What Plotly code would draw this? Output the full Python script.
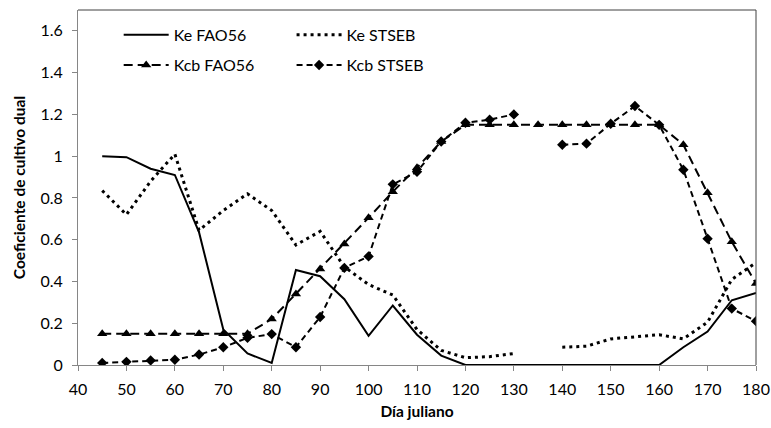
import plotly.graph_objects as go

days = list(range(45, 181, 5))

ke_fao56 = [1.0, 0.995, 0.94, 0.91, 0.635, 0.17, 0.055, 0.01, 0.455, 0.425, 0.315,
            0.14, 0.285, 0.145, 0.045, 0.0, 0.0, 0.0, 0.0, 0.0, 0.0, 0.0, 0.0, 0.0,
            0.085, 0.16, 0.31, 0.345]
ke_stseb = [0.835, 0.72, 0.88, 1.01, 0.645, 0.74, 0.82, 0.74, 0.575, 0.64, 0.47,
            0.385, 0.335, 0.17, 0.07, 0.035, 0.04, 0.055, None, 0.085, 0.09, 0.125,
            0.135, 0.145, 0.125, 0.205, 0.41, 0.49]
kcb_fao56 = [0.15, 0.15, 0.15, 0.15, 0.15, 0.15, 0.15, 0.22, 0.34, 0.46, 0.58,
             0.705, 0.83, 0.945, 1.07, 1.15, 1.15, 1.15, 1.15, 1.15, 1.15, 1.15,
             1.15, 1.15, 1.055, 0.825, 0.59, 0.39]
kcb_stseb = [0.01, 0.015, 0.022, 0.025, 0.05, 0.085, 0.13, 0.148, 0.085, 0.23, 0.465,
             0.52, 0.865, 0.925, 1.07, 1.16, 1.175, 1.2, None, 1.055, 1.06, 1.155,
             1.24, 1.15, 0.935, 0.605, 0.27, 0.21]

x_ticks = list(range(40, 181, 10))
y_ticks = [0, 0.2, 0.4, 0.6, 0.8, 1.0, 1.2, 1.4, 1.6]
y_tick_text = ["0", "0.2", "0.4", "0.6", "0.8", "1", "1.2", "1.4", "1.6"]

FONT = "Lato, 'Open Sans', sans-serif"

fig = go.Figure()
fig.add_trace(go.Scatter(x=days, y=ke_fao56, name="Ke FAO56", mode="lines",
                         line=dict(color="black", width=2), legend="legend"))
fig.add_trace(go.Scatter(x=days, y=ke_stseb, name="Ke STSEB", mode="lines",
                         line=dict(color="black", width=3, dash="3px,4px"),
                         connectgaps=False, legend="legend2"))
fig.add_trace(go.Scatter(x=days, y=kcb_fao56, name="Kcb FAO56", mode="lines+markers",
                         line=dict(color="black", width=2, dash="9px,5px"),
                         marker=dict(symbol="triangle-up", size=9, color="black"),
                         legend="legend3"))
fig.add_trace(go.Scatter(x=days, y=kcb_stseb, name="Kcb STSEB", mode="lines+markers",
                         line=dict(color="black", width=2, dash="6px,4px"),
                         marker=dict(symbol="diamond", size=8, color="black"),
                         connectgaps=False, legend="legend4"))

def leg(x, y):
    return dict(x=x, y=y, xanchor="left", yanchor="middle",
                bgcolor="rgba(0,0,0,0)", font=dict(size=16), itemwidth=45)

fig.update_layout(
    width=771, height=428,
    margin=dict(l=78, r=15, t=10, b=63, autoexpand=False),
    paper_bgcolor="white", plot_bgcolor="white",
    font=dict(family=FONT, size=16, color="black"),
    showlegend=True,
    legend=leg(0.06, 0.93),
    legend2=leg(0.315, 0.93),
    legend3=leg(0.06, 0.845),
    legend4=leg(0.315, 0.845),
    xaxis=dict(range=[40, 180], tickvals=x_ticks, ticks="outside", ticklen=5,
               tickcolor="#868686", showline=True, linecolor="#868686", linewidth=1,
               showgrid=False, zeroline=False, tickfont=dict(size=16),
               ticklabelstandoff=5, automargin=False,
               title=dict(text="<b>Día juliano</b>", font=dict(size=15.5), standoff=8)),
    yaxis=dict(range=[0, 1.7], tickvals=y_ticks, ticktext=y_tick_text, ticks="outside",
               ticklen=5, tickcolor="#868686", showline=True, linecolor="#868686",
               linewidth=1, showgrid=False, zeroline=False, tickfont=dict(size=16),
               ticklabelstandoff=6, automargin=False,
               title=dict(text="<b>Coeficiente de cultivo dual</b>", font=dict(size=15.5),
                          standoff=11)),
)

fig.add_shape(type="line", xref="paper", yref="paper", x0=0, x1=1, y0=1, y1=1,
              line=dict(color="#404040", width=1))
fig.add_shape(type="line", xref="paper", yref="paper", x0=1, x1=1, y0=0, y1=1,
              line=dict(color="#404040", width=1))

fig.write_html("out.html", config={"displayModeBar": False},
               post_script="document.body.style.margin='0';")
